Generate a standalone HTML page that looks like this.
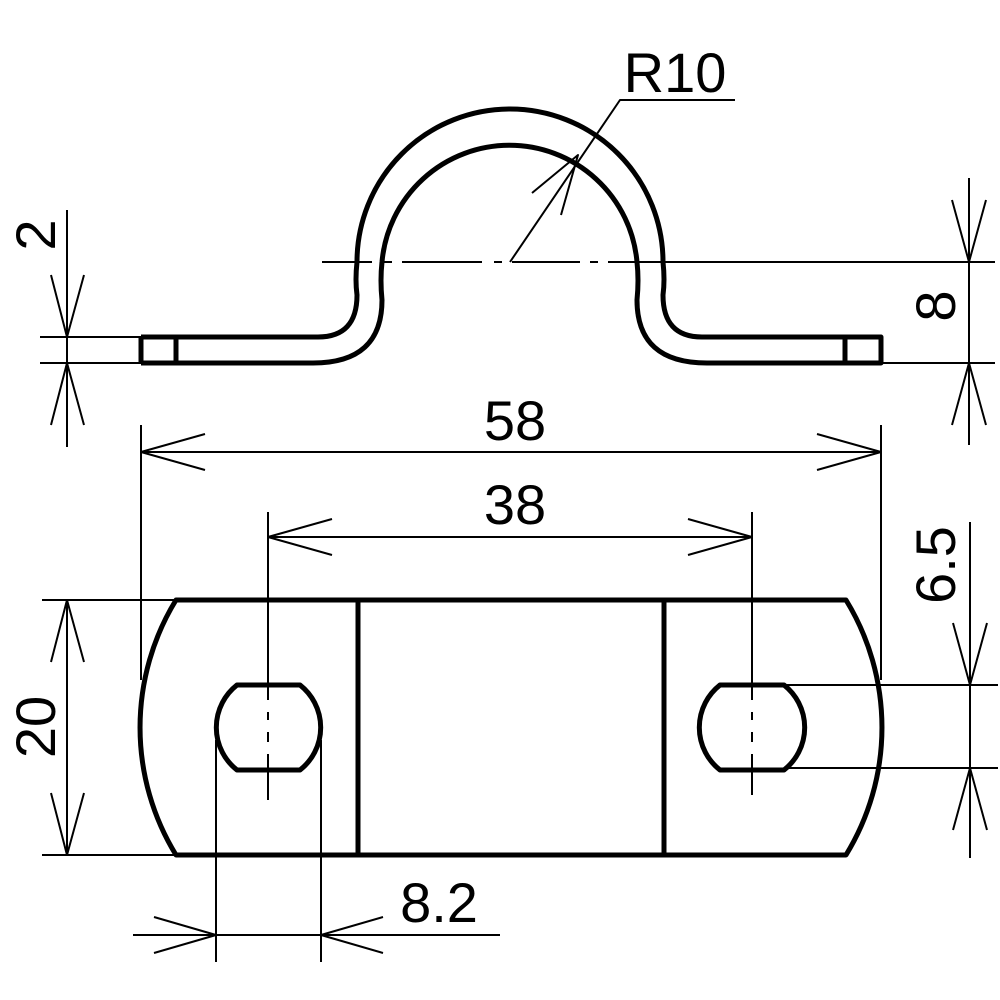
<!DOCTYPE html>
<html><head><meta charset="utf-8"><style>html,body{margin:0;padding:0;background:#fff}svg{display:block}</style></head>
<body>
<svg width="1000" height="1000" viewBox="0 0 1000 1000" xmlns="http://www.w3.org/2000/svg">
<g fill="none" stroke="#000" stroke-linecap="butt" stroke-linejoin="round">
<!-- top profile thick -->
<g stroke-width="5">
<path d="M141,337 H318 Q357,337 357,295 Q355,280 357,262 A153,153 0 0 1 663,262 Q665,280 663,295 Q663,337 702,337 H881 V363 H845 V337"/>
<path d="M141,363 H313 Q382,363 382,300 Q380,280 382,262 A128,128 0 0 1 637,262 Q639,280 637,300 Q637,363 707,363 H881"/>
<path d="M141,337 V363 M176,337 V363"/>
</g>
<!-- bottom plate thick -->
<g stroke-width="5">
<path d="M176,600 H846 A244,244 0 0 1 846,855 H176 A244,244 0 0 1 176,600 Z"/>
<path d="M358,600 V855 M664,600 V855"/>
<path d="M237,685 H300 A54,54 0 0 1 300,770 H237 A54,54 0 0 1 237,685 Z"/>
<path d="M720,685 H784 A54,54 0 0 1 784,770 H720 A54,54 0 0 1 720,685 Z"/>
</g>
<!-- thin lines -->
<g stroke-width="2">
<path d="M322,262 H372 M384,262 H392 M402,262 H482 M494,262 H502 M512,262 H580 M590,262 H598 M608,262 H995"/>
<path d="M510,262 L620,100 H735"/>
<path d="M532,193 L578,155 L561,215"/>
<path d="M67,210 V447 M40,337 H141 M40,363 H141"/>
<path d="M51,275 L67,337 L84,275 M51,425 L67,363 L84,425"/>
<path d="M969,178 V445 M881,363 H995"/>
<path d="M952,200 L969,262 L986,200 M952,425 L969,363 L986,425"/>
<path d="M141,425 V680 M881,425 V680 M141,452 H881"/>
<path d="M205,434 L141,452 L205,470 M817,434 L881,452 L817,470"/>
<path d="M268,512 V700 M268,712 V720 M268,732 V742 M268,754 V800"/>
<path d="M752,512 V700 M752,712 V720 M752,732 V742 M752,754 V795"/>
<path d="M268,537 H752"/>
<path d="M332,519 L268,537 L332,555 M688,519 L752,537 L688,555"/>
<path d="M67,600 V855 M42,600 H176 M42,855 H176"/>
<path d="M51,662 L67,600 L84,662 M51,793 L67,855 L84,793"/>
<path d="M970,522 V858 M785,685 H998 M785,768 H998"/>
<path d="M953,623 L970,685 L987,623 M953,830 L970,768 L987,830"/>
<path d="M216,740 V962 M321,740 V962 M133,935 H500"/>
<path d="M154,917 L216,935 L154,953 M383,917 L321,935 L383,953"/>
</g>
</g>
<g font-family="'Liberation Sans', sans-serif" font-size="56" fill="#000">
<text x="675" y="92" text-anchor="middle">R10</text>
<text x="515" y="440" text-anchor="middle">58</text>
<text x="515" y="524" text-anchor="middle">38</text>
<text x="439" y="922" text-anchor="middle">8.2</text>
<text transform="translate(55,235) rotate(-90)" text-anchor="middle">2</text>
<text transform="translate(55,727) rotate(-90)" text-anchor="middle">20</text>
<text transform="translate(955,306) rotate(-90)" text-anchor="middle">8</text>
<text transform="translate(955,565) rotate(-90)" text-anchor="middle">6.5</text>
</g>
</svg>
</body></html>
